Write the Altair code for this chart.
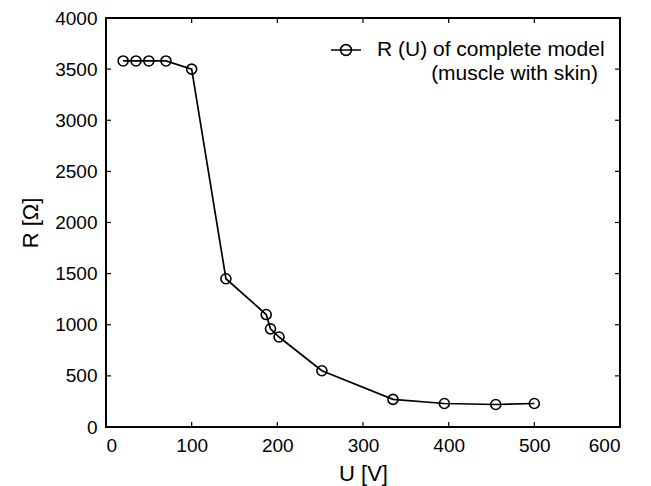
import altair as alt
import pandas as pd

U = [20, 35, 50, 70, 100, 140, 187, 192, 202, 252, 335, 395, 455, 500]
R = [3580, 3580, 3580, 3580, 3500, 1450, 1100, 960, 880, 550, 270, 230, 220, 230]
series_name = "R (U) of complete model"
series_note = "(muscle with skin)"
x_ticks = [0, 100, 200, 300, 400, 500, 600]
y_ticks = [0, 500, 1000, 1500, 2000, 2500, 3000, 3500, 4000]

W, H = 514, 409
FONT = "Liberation Sans"
TL = 5  # inward tick length

df = pd.DataFrame({"U": U, "R": R, "series": [series_name] * len(U)})
xt = pd.DataFrame({"v": x_ticks})
yt = pd.DataFrame({"v": y_ticks})

xs = alt.Scale(domain=[0, 600], nice=False, zero=False)
ys = alt.Scale(domain=[0, 4000], nice=False, zero=False)

sym = "M-1,0H1M0.36,0A0.36,0.36,0,1,1,-0.36,0A0.36,0.36,0,1,1,0.36,0"

base = alt.Chart(df)

line = base.mark_line(strokeWidth=1.7).encode(
    x=alt.X("U:Q", scale=xs, axis=alt.Axis(
        title="U [V]", values=x_ticks, format="d", ticks=False, domain=False, grid=False,
        labelFont=FONT, labelFontSize=19, labelColor="black", labelPadding=9,
        titleFont=FONT, titleFontSize=22, titleFontWeight="normal", titleColor="black", titlePadding=8)),
    y=alt.Y("R:Q", scale=ys, axis=alt.Axis(
        title="R [Ω]", values=y_ticks, format="d", ticks=False, domain=False, grid=False,
        labelFont=FONT, labelFontSize=19, labelColor="black", labelPadding=9,
        titleFont=FONT, titleFontSize=22, titleFontWeight="normal", titleColor="black", titlePadding=12)),
    stroke=alt.Stroke("series:N", scale=alt.Scale(range=["black"]), legend=alt.Legend(
        title=None, orient="none", legendX=224, legendY=16,
        symbolType=sym, symbolSize=900, symbolStrokeWidth=1.6,
        symbolFillColor="transparent", labelLimit=400,
        labelFont=FONT, labelFontSize=21, labelColor="black", labelOffset=15)),
)

points = base.mark_point(filled=False, color="black", strokeWidth=1.6, size=100, opacity=1).encode(
    x=alt.X("U:Q", scale=xs),
    y=alt.Y("R:Q", scale=ys),
)

note = alt.Chart(pd.DataFrame({"t": [series_note]})).mark_text(
    font=FONT, fontSize=21, align="right", baseline="middle", color="black"
).encode(text="t:N", x=alt.value(492), y=alt.value(56))

xb = alt.Chart(xt).mark_rule(color="black", strokeWidth=1.2).encode(
    x=alt.X("v:Q", scale=xs), y=alt.value(H), y2=alt.value(H - TL))
xtop = alt.Chart(xt).mark_rule(color="black", strokeWidth=1.2).encode(
    x=alt.X("v:Q", scale=xs), y=alt.value(0), y2=alt.value(TL))
yl = alt.Chart(yt).mark_rule(color="black", strokeWidth=1.2).encode(
    y=alt.Y("v:Q", scale=ys), x=alt.value(0), x2=alt.value(TL))
yr = alt.Chart(yt).mark_rule(color="black", strokeWidth=1.2).encode(
    y=alt.Y("v:Q", scale=ys), x=alt.value(W), x2=alt.value(W - TL))

chart = alt.layer(xb, xtop, yl, yr, line, points, note).properties(
    width=W, height=H,
    padding={"left": 11, "top": 1, "right": 5, "bottom": 5},
    background="white",
).configure_view(stroke="black", strokeWidth=2)

chart.save("out.html", embed_options={"renderer": "svg", "actions": False})
